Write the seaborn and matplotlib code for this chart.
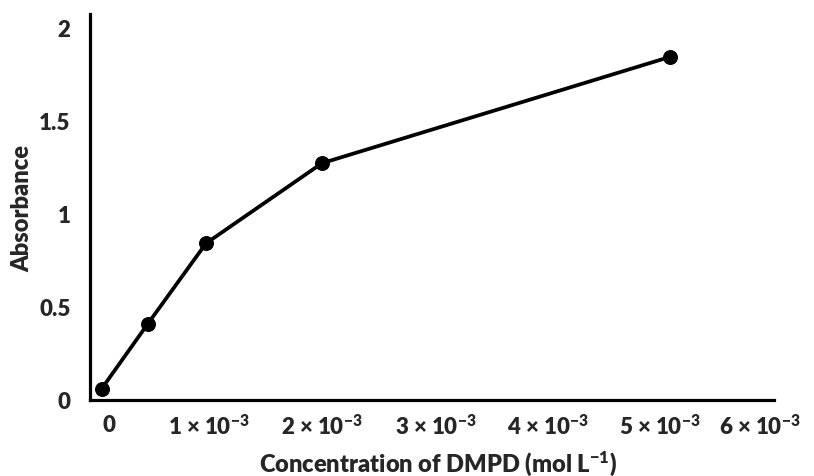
import matplotlib
matplotlib.use("Agg")
import matplotlib.pyplot as plt
import matplotlib.transforms as mtransforms
import seaborn as sns
import pandas as pd

# Data
concentration = [0.0001, 0.0005, 0.001, 0.002, 0.005]   # mol L-1
absorbance = [0.06, 0.41, 0.84, 1.27, 1.84]
x_ticks = [0, 0.001, 0.002, 0.003, 0.004, 0.005, 0.006]
x_tick_labels = ["0"] + [rf"{i} × 10$^{{-3}}$" for i in range(1, 7)]
y_ticks = [0, 0.5, 1, 1.5, 2]
y_tick_labels = ["0", "0.5", "1", "1.5", "2"]

sns.set_style("white")
plt.rcParams["font.family"] = ["Lato", "DejaVu Sans"]
plt.rcParams["font.weight"] = "heavy"
plt.rcParams["mathtext.fontset"] = "custom"
plt.rcParams["mathtext.rm"] = "Lato:heavy"
plt.rcParams["mathtext.it"] = "Lato:heavy"
plt.rcParams["mathtext.bf"] = "Lato:heavy"
plt.rcParams["mathtext.default"] = "regular"

df = pd.DataFrame({"conc": concentration, "abs": absorbance})

fig = plt.figure(figsize=(8.14, 4.77), dpi=100)
ax = fig.add_axes([90 / 814, 1 - 401 / 477, 696 / 814, 386 / 477])

sns.lineplot(data=df, x="conc", y="abs", ax=ax, color="black", linewidth=2.7,
             marker="o", markersize=10, markeredgecolor="black", markerfacecolor="black")

ax.set_xlim(0, 0.006)
ax.set_ylim(0, 2.07)
ax.set_xticks(x_ticks)
ax.set_xticklabels(x_tick_labels, fontsize=16, fontweight="heavy")
ax.set_yticks(y_ticks)
ax.set_yticklabels(y_tick_labels, fontsize=16, fontweight="heavy")
ax.tick_params(axis="both", length=0)
ax.tick_params(axis="x", pad=10)
ax.tick_params(axis="y", pad=14)

# small horizontal nudges of the x tick labels (pixels), as in the reference
label_shift_px = [19, 3, 0, -2, -6, -10, -26]
for lab, dx in zip(ax.get_xticklabels(), label_shift_px):
    lab.set_transform(lab.get_transform() +
                      mtransforms.ScaledTranslation(dx / 100, 0, fig.dpi_scale_trans))

for s in ["top", "right"]:
    ax.spines[s].set_visible(False)
for s in ["left", "bottom"]:
    ax.spines[s].set_linewidth(2.3)
    ax.spines[s].set_color("black")
ax.spines["bottom"].set_bounds(0, 0.0059)

ax.set_xlabel(r"Concentration of DMPD (mol L$^{-1}$)", fontsize=17, fontweight="heavy", labelpad=7)
ax.set_ylabel("Absorbance", fontsize=17, fontweight="heavy", labelpad=4)

fig.savefig("out.png", dpi=100)
